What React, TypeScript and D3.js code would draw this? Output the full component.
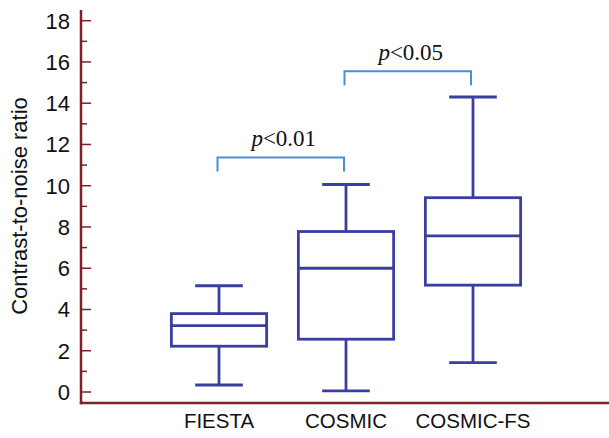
import React from "react";
import * as d3 from "d3";

const categories = ["FIESTA", "COSMIC", "COSMIC-FS"];
const whiskerLow = [0.34, 0.05, 1.42];
const q1Values = [2.22, 2.56, 5.18];
const medianValues = [3.22, 6.0, 7.57];
const q3Values = [3.8, 7.78, 9.42];
const whiskerHigh = [5.15, 10.06, 14.3];

const yTicks = [0, 2, 4, 6, 8, 10, 12, 14, 16, 18];
const yMinorTicks = [1, 3, 5, 7, 9, 11, 13, 15, 17];

const bracketFrom = ["FIESTA", "COSMIC"];
const bracketTo = ["COSMIC", "COSMIC-FS"];
const bracketTop = [11.37, 15.55];
const bracketLeg = [10.69, 14.87];
const bracketLabel = ["0.01", "0.05"];

const W = 609;
const H = 438;
const axisX = 81;
const axisY = 403;
const axisColor = "#7b2226";
const boxColor = "#3a3f9f";
const bracketColor = "#4b8fd3";

export default function App() {
  const y = d3.scaleLinear().domain([0, 18]).range([392, 20.7]);
  const x = d3
    .scaleBand()
    .domain(categories)
    .range([155.5, 536.5])
    .paddingInner(0.25)
    .paddingOuter(0.125);
  const bw = x.bandwidth();
  const capW = bw * 0.5;

  return (
    <svg
      width={W}
      height={H}
      style={{ position: "absolute", left: 0, top: 0, background: "#fff" }}
    >
      <line x1={axisX} x2={axisX} y1={10} y2={axisY + 1.2} stroke={axisColor} strokeWidth={2.5} />
      <line x1={axisX - 1.2} x2={W} y1={axisY} y2={axisY} stroke={axisColor} strokeWidth={2.5} />
      {yTicks.map((t) => (
        <g key={"t" + t}>
          <line x1={axisX} x2={axisX + 10} y1={y(t)} y2={y(t)} stroke={axisColor} strokeWidth={1.5} />
          <text
            x={70}
            y={y(t)}
            dy="0.36em"
            textAnchor="end"
            fontFamily="'Liberation Sans', Arial, sans-serif"
            fontSize={22}
            fill="#111"
          >
            {t}
          </text>
        </g>
      ))}
      {yMinorTicks.map((t) => (
        <line key={"m" + t} x1={axisX} x2={axisX + 6} y1={y(t)} y2={y(t)} stroke={axisColor} strokeWidth={1.5} />
      ))}
      <text
        transform={`translate(27,206) rotate(-90)`}
        textAnchor="middle"
        fontFamily="'Liberation Sans', Arial, sans-serif"
        fontSize={22}
        fill="#111"
      >
        Contrast-to-noise ratio
      </text>

      {categories.map((c, i) => {
        const x0 = x(c)!;
        const cx = x0 + bw / 2;
        return (
          <g key={c} stroke={boxColor} strokeWidth={2.8} fill="none">
            <line x1={cx} x2={cx} y1={y(whiskerHigh[i])} y2={y(q3Values[i])} />
            <line x1={cx} x2={cx} y1={y(q1Values[i])} y2={y(whiskerLow[i])} />
            <line x1={cx - capW / 2} x2={cx + capW / 2} y1={y(whiskerHigh[i])} y2={y(whiskerHigh[i])} />
            <line x1={cx - capW / 2} x2={cx + capW / 2} y1={y(whiskerLow[i])} y2={y(whiskerLow[i])} />
            <rect x={x0} y={y(q3Values[i])} width={bw} height={y(q1Values[i]) - y(q3Values[i])} />
            <line x1={x0} x2={x0 + bw} y1={y(medianValues[i])} y2={y(medianValues[i])} />
            <text
              x={cx}
              y={428}
              textAnchor="middle"
              stroke="none"
              fill="#111"
              fontFamily="'Liberation Sans', Arial, sans-serif"
              fontSize={20.5}
            >
              {c}
            </text>
          </g>
        );
      })}

      {bracketFrom.map((f, i) => {
        const xa = x(f)! + bw / 2 - 1.5;
        const xb = x(bracketTo[i])! + bw / 2 - 2;
        const yt = y(bracketTop[i]);
        const yl = y(bracketLeg[i]);
        return (
          <g key={"b" + i}>
            <path
              d={`M${xa},${yl}V${yt}H${xb}V${yl}`}
              fill="none"
              stroke={bracketColor}
              strokeWidth={2}
            />
            <text
              x={(xa + xb) / 2 + 3}
              y={yt - 11}
              textAnchor="middle"
              fontFamily="'Liberation Serif', 'Times New Roman', serif"
              fontSize={23}
              fill="#111"
            >
              <tspan fontStyle="italic">p</tspan>
              {"<" + bracketLabel[i]}
            </text>
          </g>
        );
      })}
    </svg>
  );
}
